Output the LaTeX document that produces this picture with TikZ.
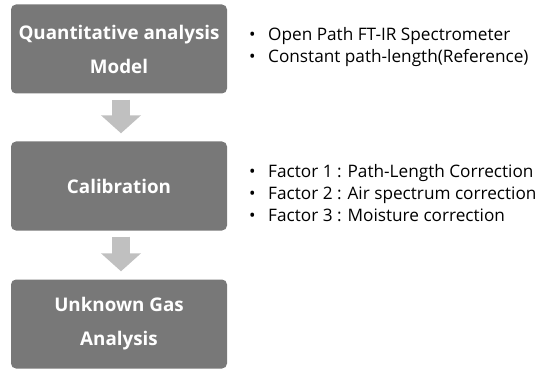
\documentclass[tikz,border=0pt]{standalone}
\usepackage{fontspec}
\setmainfont{Open Sans}
\usetikzlibrary{arrows.meta}
\definecolor{gris_boite}{HTML}{787878}
\definecolor{gris_fleche}{HTML}{C0C0C0}
\newcommand{\puce}{\makebox[19pt][l]{\textbullet}}

\begin{document}
\begin{tikzpicture}[x=1pt,y=-1pt,
    boite/.style={fill=gris_boite, rounded corners=5pt, minimum width=216pt, minimum height=89pt,
        inner sep=0pt, text=white, align=center, font=\fontsize{18.8}{34}\selectfont\bfseries},
    fleche/.style={draw=gris_fleche, line width=18pt, -{Triangle[length=18pt,width=39pt]},
        shorten <=6pt, shorten >=8pt},
    liste/.style={anchor=west, inner sep=0pt, align=left, font=\fontsize{17.2}{21.8}\selectfont}]
        % Cadre
        \useasboundingbox (0,0) rectangle (547,369);

        % Etapes
        \node[boite] (modele) at (119,49) {Quantitative analysis\\Model};
        \node[boite] (calib) at (119,186) {Calibration};
        \node[boite] (analyse) at (119,324) {Unknown Gas\\Analysis};

        % Fleches entre les etapes
        \draw[fleche] ([xshift=2pt]modele.south) -- ([xshift=2pt]calib.north);
        \draw[fleche] ([xshift=2pt]calib.south) -- ([xshift=2pt]analyse.north);

        % Listes a puces
        \node[liste] (liste_modele) at (249,47) {\puce Open Path FT-IR Spectrometer\\
            \puce Constant path-length(Reference)};
        \node[liste] (liste_calib) at (249,193) {\puce Factor 1 : Path-Length Correction\\
            \puce Factor 2 : Air spectrum correction\\
            \puce Factor 3 : Moisture correction};
\end{tikzpicture}
\end{document}
